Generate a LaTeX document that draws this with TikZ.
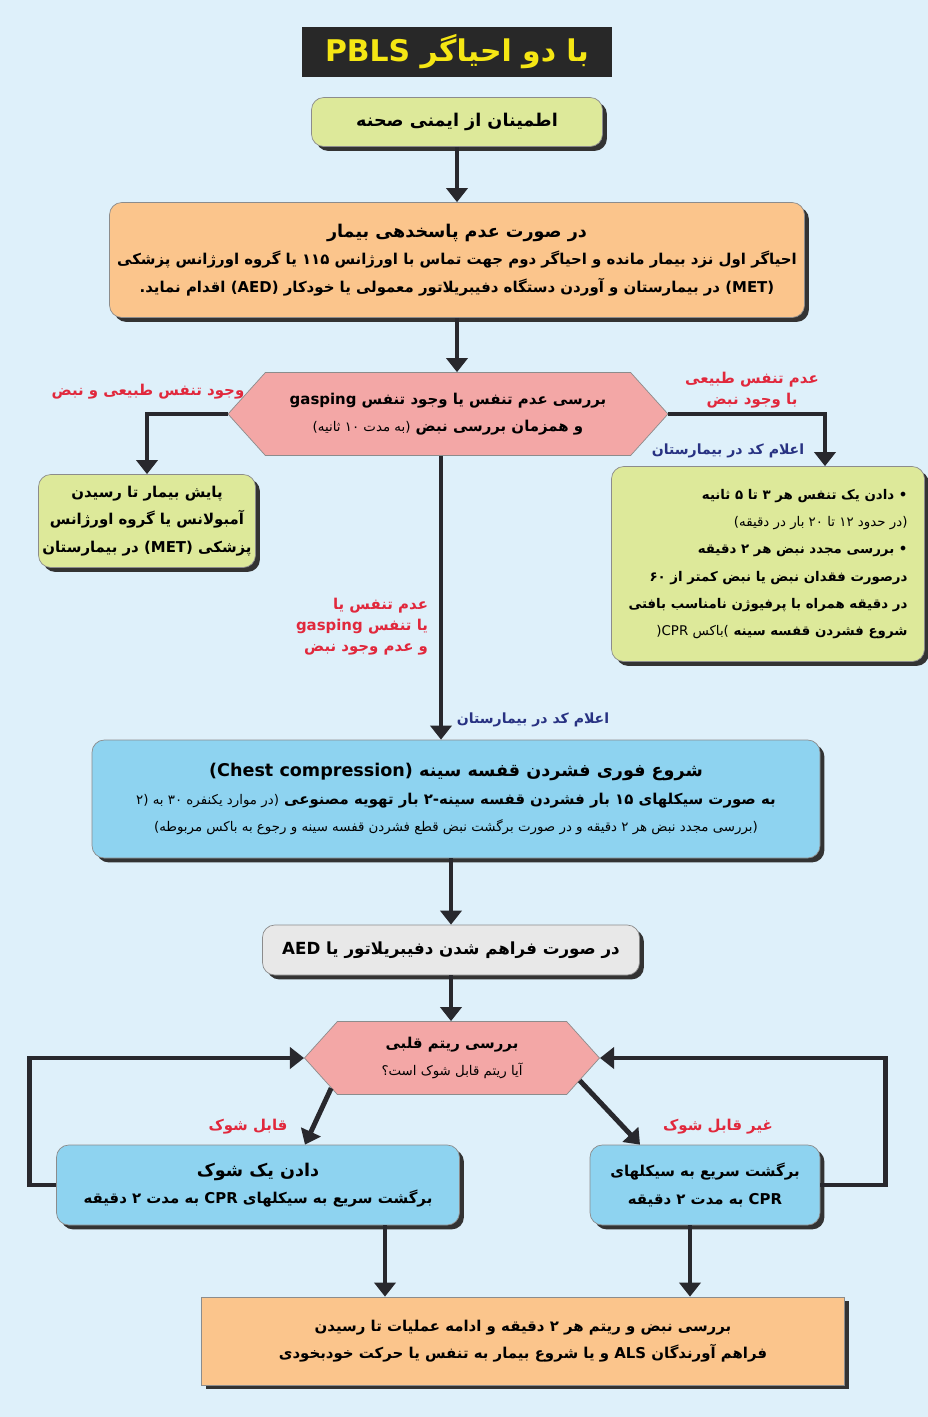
\documentclass[tikz,border=0pt]{standalone}
\usepackage{fontspec}
\setmainfont{DejaVu Sans}
\newfontfamily\farsi[Script=Arabic]{DejaVu Sans}
\TeXXeTstate=1
\usetikzlibrary{positioning,shapes.symbols,shadows,arrows.meta}

\newcommand{\fa}[1]{{\farsi\beginR #1\endR}}
\newcommand{\en}[1]{\beginL #1\endL{}}
\newcommand{\minor}{\mdseries\fontsize{7.6}{9}\selectfont}

\definecolor{bgblue}{RGB}{222,240,250}
\definecolor{boxgreen}{RGB}{221,233,154}
\definecolor{boxorange}{RGB}{251,197,140}
\definecolor{boxpink}{RGB}{243,167,166}
\definecolor{boxblue}{RGB}{142,211,240}
\definecolor{boxgray}{RGB}{232,232,232}
\definecolor{titledark}{RGB}{40,40,40}
\definecolor{titleyellow}{RGB}{245,230,20}
\definecolor{labelred}{RGB}{225,40,60}
\definecolor{labelblue}{RGB}{40,50,130}
\definecolor{arrowdark}{RGB}{40,40,45}

\begin{document}
\begin{tikzpicture}[x=0.2mm, y=-0.2mm,
  box/.style={draw=black!45, rounded corners=7pt, inner sep=2pt,
    drop shadow={shadow xshift=2.5pt, shadow yshift=-2.5pt, fill=black!80, opacity=1}},
  body/.style={font=\fontsize{8.5}{15.5}\selectfont\bfseries, align=center},
  hexa/.style={shape=signal, signal to=east and west, draw=black!45, fill=boxpink, inner sep=0pt},
  flow/.style={draw=arrowdark, line width=2.8pt, -{Triangle[width=12pt,length=8pt]}},
  redlbl/.style={text=labelred, font=\fontsize{8.5}{12}\selectfont\bfseries, align=center},
  bluelbl/.style={text=labelblue, font=\fontsize{8}{11}\selectfont\bfseries},
  boxsize/.style 2 args={minimum width=#1*0.2mm, minimum height=#2*0.2mm}]

    \fill[bgblue] (0,0) rectangle (928,1417);
    \useasboundingbox (0,0) rectangle (928,1417);

    % Title
    \node[fill=titledark, boxsize={310}{50}, text=titleyellow,
          font=\fontsize{17}{20}\selectfont\bfseries] (title) at (457,52) {\fa{با دو احیاگر \en{PBLS}}};

    % Top boxes
    \node[box, fill=boxgreen, boxsize={291}{49}, body, font=\fontsize{10}{12}\selectfont\bfseries] (safe) at (457,122) {\fa{اطمینان از ایمنی صحنه}};
    \node[box, fill=boxorange, boxsize={695}{115}, body] (noresp) at (457,260)
      {\fa{\fontsize{10}{15.5}\selectfont در صورت عدم پاسخدهی بیمار}\\
       \fa{احیاگر اول نزد بیمار مانده و احیاگر دوم جهت تماس با اورژانس ۱۱۵ یا گروه اورژانس پزشکی}\\
       \fa{\en{(MET)} در بیمارستان و آوردن دستگاه دفیبریلاتور معمولی یا خودکار \en{(AED)} اقدام نماید.}};

    % Breathing check
    \node[hexa, boxsize={440}{83}, signal pointer angle=96, body] (check) at (448,414)
      {\fa{بررسی عدم تنفس یا وجود تنفس \en{gasping}}\\
       \fa{و همزمان بررسی نبض {\minor(به مدت ۱۰ ثانیه)}}};

    % Left branch
    \node[redlbl] (normlbl) at (148,392) {\fa{وجود تنفس طبیعی و نبض}};
    \node[box, fill=boxgreen, boxsize={217}{93}, body] (monitor) at (147,521)
      {\fa{پایش بیمار تا رسیدن}\\ \fa{آمبولانس یا گروه اورژانس}\\ \fa{پزشکی \en{(MET)} در بیمارستان}};

    % Right branch
    \node[redlbl] (pulselbl) at (752,390) {\fa{عدم تنفس طبیعی}\\ \fa{با وجود نبض}};
    \node[bluelbl] (code1) at (728,451) {\fa{اعلام کد در بیمارستان}};
    \node[box, fill=boxgreen, boxsize={313}{195}, body, align=right, inner xsep=8pt,
          font=\fontsize{7.6}{15.5}\selectfont\bfseries] (breath) at (768,564)
      {\fa{• دادن یک تنفس هر ۳ تا ۵ ثانیه}\\
       \fa{{\minor(در حدود ۱۲ تا ۲۰ بار در دقیقه)}}\\
       \fa{• بررسی مجدد نبض هر ۲ دقیقه}\\
       \fa{درصورت فقدان نبض یا نبض کمتر از ۶۰}\\
       \fa{در دقیقه همراه با پرفیوژن نامناسب بافتی}\\
       \fa{شروع فشردن قفسه سینه {\minor\beginL(\en{CPR} \beginR باکس\endR)\endL}}};

    % Middle branch
    \node[redlbl, align=right] (nobreath) at (362,627)
      {\fa{عدم تنفس یا}\\ \fa{یا تنفس \en{gasping}}\\ \fa{و عدم وجود نبض}};
    \node[bluelbl] (code2) at (533,720) {\fa{اعلام کد در بیمارستان}};

    % Compressions
    \node[box, fill=boxblue, boxsize={728}{118}, body] (compress) at (456,799)
      {\fa{\fontsize{10}{15.5}\selectfont شروع فوری فشردن قفسه سینه \en{(Chest compression)}}\\
       \fa{به صورت سیکلهای ۱۵ بار فشردن قفسه سینه-۲ بار تهویه مصنوعی {\minor(در موارد یکنفره ۳۰ به \beginL(۲\endL}}\\
       \fa{{\minor(بررسی مجدد نبض هر ۲ دقیقه و در صورت برگشت نبض قطع فشردن قفسه سینه و رجوع به باکس مربوطه)}}};

    % Defibrillator
    \node[box, fill=boxgray, boxsize={377}{50}, body, font=\fontsize{9.5}{12}\selectfont\bfseries] (aed) at (451,950)
      {\fa{در صورت فراهم شدن دفیبریلاتور یا \en{AED}}};

    % Rhythm check
    \node[hexa, boxsize={295}{73}, signal pointer angle=96, body] (rhythm) at (452,1058)
      {\fa{بررسی ریتم قلبی}\\ \fa{{\minor آیا ریتم قابل شوک است؟}}};

    \node[redlbl] (shocklbl) at (248,1127) {\fa{قابل شوک}};
    \node[redlbl] (noshocklbl) at (718,1127) {\fa{غیر قابل شوک}};
    \node[box, fill=boxblue, boxsize={403}{80}, body] (shock) at (258,1185)
      {\fa{\fontsize{10}{15.5}\selectfont دادن یک شوک}\\ \fa{برگشت سریع به سیکلهای \en{CPR} به مدت ۲ دقیقه}};
    \node[box, fill=boxblue, boxsize={230}{80}, body] (noshock) at (705,1185)
      {\fa{برگشت سریع به سیکلهای}\\ \fa{\en{CPR} به مدت ۲ دقیقه}};

    % Final box
    \node[box, rounded corners=0pt, fill=boxorange, boxsize={643}{88}, body] (final) at (523,1341)
      {\fa{بررسی نبض و ریتم هر ۲ دقیقه و ادامه عملیات تا رسیدن}\\
       \fa{فراهم آورندگان \en{ALS} و یا شروع بیمار به تنفس یا حرکت خودبخودی}};

    % Arrows
    \draw[flow] (safe) -- (noresp);
    \draw[flow] (noresp) -- (noresp |- check.north);
    \draw[flow] (check.west) -| (monitor.north);
    \draw[flow] (check.east) -| (breath.north -| 825,0);
    \draw[flow] (check.south -| 441,0) -- (compress.north -| 441,0);
    \draw[flow] (aed.north |- compress.south) -- (aed.north);
    \draw[flow] (aed) -- (aed |- rhythm.north);
    \draw[flow] (rhythm.194) -- (shock.north -| 305,0);
    \draw[flow] (rhythm.-10) -- (noshock.north -| 640,0);
    \draw[flow] (shock.west) -- ++(-27,0) |- (rhythm.west);
    \draw[flow] (noshock.east) -- ++(65,0) |- (rhythm.east);
    \draw[flow] (shock.south -| 385,0) -- (final.north -| 385,0);
    \draw[flow] (noshock.south -| 690,0) -- (final.north -| 690,0);

\end{tikzpicture}
\end{document}
